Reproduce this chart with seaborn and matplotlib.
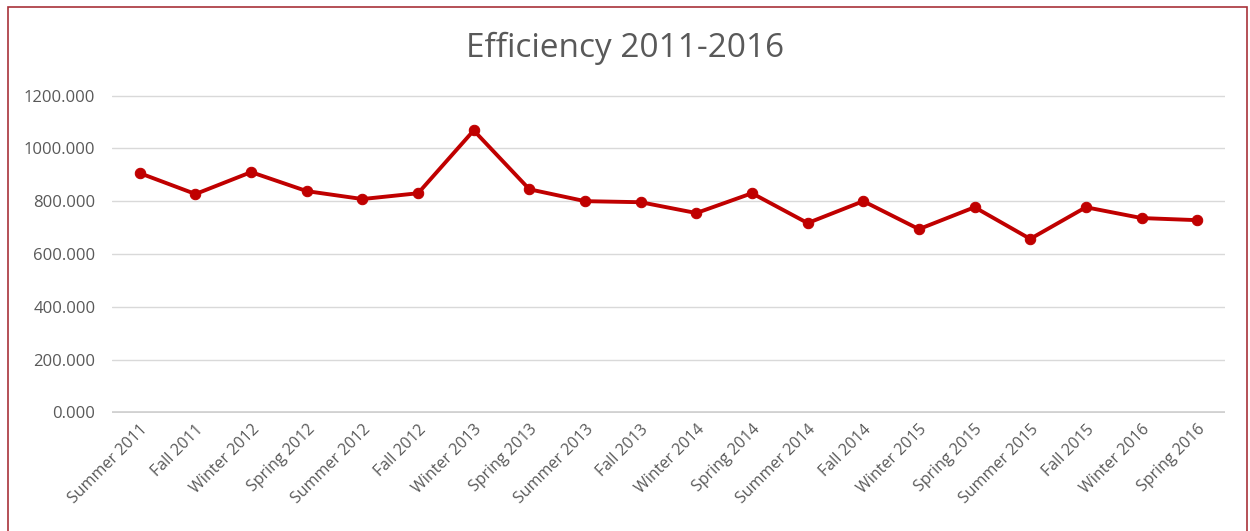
import matplotlib
matplotlib.use('Agg')
import matplotlib.pyplot as plt
import matplotlib.patches as patches
from matplotlib.ticker import FormatStrFormatter
import seaborn as sns
import pandas as pd

terms = ['Summer 2011', 'Fall 2011', 'Winter 2012', 'Spring 2012', 'Summer 2012',
         'Fall 2012', 'Winter 2013', 'Spring 2013', 'Summer 2013', 'Fall 2013',
         'Winter 2014', 'Spring 2014', 'Summer 2014', 'Fall 2014', 'Winter 2015',
         'Spring 2015', 'Summer 2015', 'Fall 2015', 'Winter 2016', 'Spring 2016']
efficiency = [906, 827, 910, 838, 808, 830, 1068, 845, 800, 796,
              755, 830, 717, 800, 694, 777, 657, 777, 736, 728]
y_ticks = [0, 200, 400, 600, 800, 1000, 1200]

sns.set_style('white')
plt.rcParams['font.family'] = ['Open Sans', 'DejaVu Sans']

df = pd.DataFrame({'term': terms, 'efficiency': efficiency})

fig = plt.figure(figsize=(12.5, 5.31), dpi=100)
ax = fig.add_axes([0.0896, 0.222, 0.8904, 0.599])

sns.lineplot(data=df, x='term', y='efficiency', sort=False, ax=ax,
             color='#C00000', linewidth=2.8, marker='o', markersize=7.5,
             markeredgecolor='#C00000', zorder=3)

ax.set_xlim(-0.5, len(terms) - 0.5)
ax.set_ylim(-3, 1202)
ax.set_yticks(y_ticks)
ax.yaxis.set_major_formatter(FormatStrFormatter('%.3f'))
ax.grid(axis='y', color='#d9d9d9', linewidth=1)
ax.axhline(0, color='#d0d0d0', linewidth=1.2, zorder=1)
ax.set_axisbelow(True)
for s in ax.spines.values():
    s.set_visible(False)
ax.tick_params(axis='both', length=0, colors='#595959')
ax.tick_params(axis='y', pad=12, labelsize=12)
ax.tick_params(axis='x', pad=6, labelsize=11.5)
plt.setp(ax.get_xticklabels(), rotation=45, ha='right', rotation_mode='anchor')
ax.set_xlabel('')
ax.set_ylabel('')

fig.text(0.5, 1 - 48 / 531, 'Efficiency 2011-2016', ha='center', va='center',
         fontsize=24, color='#595959')

# dark red frame around the chart area
frame = patches.Rectangle((8 / 1250, -0.05), (1247 - 8) / 1250, 1 - 7 / 531 + 0.05,
                          transform=fig.transFigure, fill=False,
                          edgecolor='#a8323a', linewidth=1.2)
fig.patches.append(frame)

fig.savefig('out.png', dpi=100)
